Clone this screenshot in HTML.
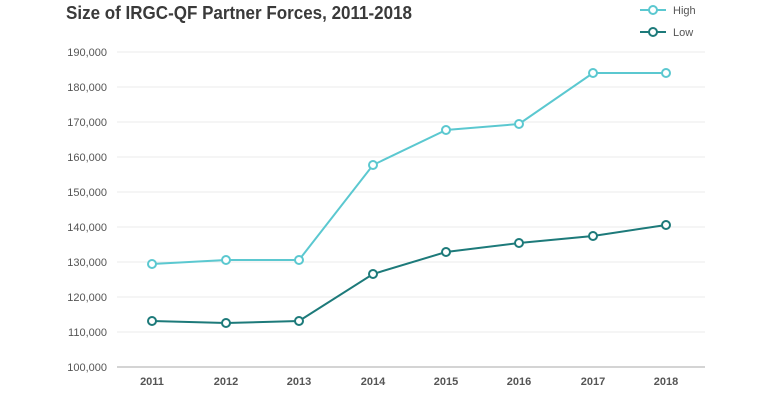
<!DOCTYPE html>
<html><head><style>
body{margin:0;background:#fff;}
svg text{font-family:"Liberation Sans",sans-serif;}
</style></head><body>
<svg width="780" height="405" xmlns="http://www.w3.org/2000/svg">
<text x="66" y="19" font-size="18" font-weight="bold" fill="#3a3a3a" textLength="346" lengthAdjust="spacingAndGlyphs">Size of IRGC-QF Partner Forces, 2011-2018</text>
<g stroke="#ebebeb" stroke-width="1">
<line x1="117" x2="705" y1="52" y2="52"/><line x1="117" x2="705" y1="87" y2="87"/>
<line x1="117" x2="705" y1="122" y2="122"/><line x1="117" x2="705" y1="157" y2="157"/>
<line x1="117" x2="705" y1="192" y2="192"/><line x1="117" x2="705" y1="227" y2="227"/>
<line x1="117" x2="705" y1="262" y2="262"/><line x1="117" x2="705" y1="297" y2="297"/>
<line x1="117" x2="705" y1="332" y2="332"/>
</g>
<line x1="117" x2="705" y1="367" y2="367" stroke="#d4d4d4" stroke-width="2"/>
<g font-size="11" fill="#555" text-anchor="end">
<text x="107" y="56">190,000</text><text x="107" y="91">180,000</text><text x="107" y="126">170,000</text>
<text x="107" y="161">160,000</text><text x="107" y="196">150,000</text><text x="107" y="231">140,000</text>
<text x="107" y="266">130,000</text><text x="107" y="301">120,000</text><text x="107" y="336">110,000</text>
<text x="107" y="371">100,000</text>
</g>
<g font-size="11" fill="#555" text-anchor="middle" font-weight="bold">
<text x="152" y="385">2011</text><text x="226" y="385">2012</text><text x="299" y="385">2013</text>
<text x="373" y="385">2014</text><text x="446" y="385">2015</text><text x="519" y="385">2016</text>
<text x="593" y="385">2017</text><text x="666" y="385">2018</text>
</g>
<g fill="#fff" stroke="#5bc8d0" stroke-width="2">
<polyline fill="none" points="152,264 226,260 299,260 373,165 446,130 519,124 593,73 666,73"/>
<circle cx="152" cy="264" r="4"/><circle cx="226" cy="260" r="4"/><circle cx="299" cy="260" r="4"/>
<circle cx="373" cy="165" r="4"/><circle cx="446" cy="130" r="4"/><circle cx="519" cy="124" r="4"/>
<circle cx="593" cy="73" r="4"/><circle cx="666" cy="73" r="4"/>
<line x1="640" x2="666" y1="10" y2="10"/><circle cx="653" cy="10" r="4"/>
</g>
<g fill="#fff" stroke="#1d7a7a" stroke-width="2">
<polyline fill="none" points="152,321 226,323 299,321 373,274 446,252 519,243 593,236 666,225"/>
<circle cx="152" cy="321" r="4"/><circle cx="226" cy="323" r="4"/><circle cx="299" cy="321" r="4"/>
<circle cx="373" cy="274" r="4"/><circle cx="446" cy="252" r="4"/><circle cx="519" cy="243" r="4"/>
<circle cx="593" cy="236" r="4"/><circle cx="666" cy="225" r="4"/>
<line x1="640" x2="666" y1="32" y2="32"/><circle cx="653" cy="32" r="4"/>
</g>
<g font-size="11" fill="#555">
<text x="673" y="14">High</text><text x="673" y="36">Low</text>
</g>
</svg>
</body></html>
